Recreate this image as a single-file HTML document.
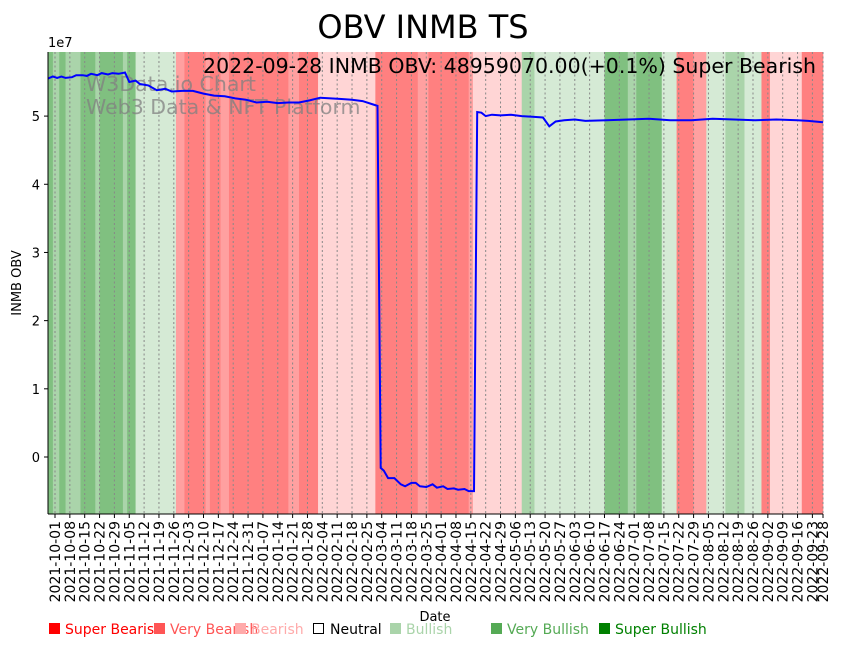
<!DOCTYPE html>
<html><head><meta charset="utf-8">
<style>
body{margin:0;background:#fff;width:842px;height:646px;overflow:hidden;font-family:"Liberation Sans","DejaVu Sans",sans-serif;}
svg text{font-family:"DejaVu Sans","Liberation Sans",sans-serif;}
</style></head>
<body>
<svg id="chart" width="842" height="646" xmlns="http://www.w3.org/2000/svg">
<g id="bands"></g>
<g id="grid"></g>
<g id="watermark">
<text x="86" y="91" font-size="20.5" fill="#808080" fill-opacity="0.75">W3Data.io Chart</text>
<text x="86" y="114" font-size="20.5" fill="#808080" fill-opacity="0.75">Web3 Data &amp; NFT Platform</text>
</g>
<path id="line" fill="none" stroke="#0000ff" stroke-width="2"/>
<text x="816" y="73" font-size="20.5" text-anchor="end" fill="#000">2022-09-28 INMB OBV: 48959070.00(+0.1%) Super Bearish</text>
<line x1="48" y1="52" x2="48" y2="514" stroke="#000" stroke-width="1"/>
<line x1="48" y1="514" x2="823" y2="514" stroke="#000" stroke-width="1"/>
<g id="yticks"></g>
<g id="xticks"></g>
<text x="48" y="47" font-size="13">1e7</text>
<text x="423" y="38" font-size="32" text-anchor="middle">OBV INMB TS</text>
<text transform="translate(21,283) rotate(-90)" font-size="13" text-anchor="middle">INMB OBV</text>
<text x="435" y="621" font-size="13" text-anchor="middle">Date</text>
<g font-size="14">
<g><rect x="49" y="623" width="11" height="11" fill="#ff0000"/><text x="65" y="634" fill="#ff0000">Super Bearish</text></g>
<g><rect x="154" y="623" width="11" height="11" fill="#ff5555"/><text x="170" y="634" fill="#ff5555">Very Bearish</text></g>
<g><rect x="235" y="623" width="11" height="11" fill="#ffaaaa"/><text x="251" y="634" fill="#ffaaaa">Bearish</text></g>
<g><rect x="313.5" y="623.5" width="10" height="10" fill="#fff" stroke="#000"/><text x="330" y="634" fill="#000">Neutral</text></g>
<g><rect x="390" y="623" width="11" height="11" fill="#aad4aa"/><text x="406" y="634" fill="#aad4aa">Bullish</text></g>
<g><rect x="491" y="623" width="11" height="11" fill="#55aa55"/><text x="507" y="634" fill="#55aa55">Very Bullish</text></g>
<g><rect x="599" y="623" width="11" height="11" fill="#008000"/><text x="615" y="634" fill="#008000">Super Bullish</text></g>
</g>
</svg>
<script>
// band boundaries (days since 2021-10-01) and categories
const bandStarts=[-3.3,-1,2,5,7,12,19,21,32,34,38,57,61,71,73,78,82,101,110,115,124,151,171,176,195,197,220,226,259,270,274,286,293,301,307,316,325,333,337,352];
const bandCats=['SBu','VBu','SBu','VBu','VBu','SBu','VBu','SBu','VBu','SBu','Bu','VBe','SBe','VBe','SBe','VBe','SBe','SBe','VBe','SBe','Be','SBe','VBe','SBe','VBe','Be','VBu','Bu','SBu','VBu','SBu','Bu','SBe','VBe','Bu','VBu','Bu','SBe','Be','SBe'];
const bandEnd=362;
const catColors={SBe:'#ff8080',VBe:'#ffa0a0',Be:'#ffd5d5',Bu:'#d5ead5',VBu:'#aad4aa',SBu:'#80c080'};
// OBV series (1e7 units)
const obvDays=[-3.3,-1,1,3,5,8,10,13,15,17,20,22,25,27,30,33,35,38,40,44,48,52,55,60,65,70,75,80,85,90,95,100,105,110,115,120,125,130,135,140,145,150,152,153.5,155,157,160,163,165,168,170,172,175,178,180,183,185,188,190,193,195,197.5,199,201,203,206,210,215,220,225,230,233,236,240,245,250,260,270,280,290,300,310,320,330,340,350,355,362];
const obvVals=[5.55,5.58,5.56,5.58,5.56,5.57,5.6,5.6,5.59,5.62,5.6,5.63,5.61,5.63,5.62,5.64,5.5,5.52,5.47,5.45,5.38,5.4,5.36,5.37,5.37,5.33,5.3,5.29,5.26,5.24,5.2,5.21,5.19,5.2,5.2,5.23,5.27,5.26,5.25,5.24,5.22,5.17,5.15,-0.16,-0.2,-0.31,-0.31,-0.4,-0.43,-0.38,-0.38,-0.43,-0.44,-0.4,-0.45,-0.43,-0.47,-0.46,-0.48,-0.47,-0.5,-0.5,5.06,5.05,5.0,5.02,5.01,5.02,5.0,4.99,4.98,4.85,4.92,4.94,4.95,4.93,4.94,4.95,4.96,4.94,4.94,4.96,4.95,4.94,4.95,4.94,4.93,4.91];
const tickLabels=[];
(function(){const s=new Date(Date.UTC(2021,9,1));for(let d=0;d<=361;d+=7){tickLabels.push([d,new Date(s.getTime()+d*864e5).toISOString().slice(0,10)]);}tickLabels.push([362,'2022-09-28']);})();
const yTicks=[0,1,2,3,4,5];

const X0=48,X1=823,D0=-3.3,D1=362,Y0=514,Y1=52,V0=-0.836,V1=5.94;
const xs=d=>X0+(d-D0)/(D1-D0)*(X1-X0);
const ys=v=>Y0-(v-V0)/(V1-V0)*(Y0-Y1);
const NS='http://www.w3.org/2000/svg';
function mk(t,a,p){const e=document.createElementNS(NS,t);for(const k in a)e.setAttribute(k,a[k]);p.appendChild(e);return e;}
const bg=document.getElementById('bands');
bandStarts.forEach((s,i)=>{const e=i+1<bandStarts.length?bandStarts[i+1]:bandEnd;
const r=mk('rect',{x:xs(s),y:Y1,width:xs(e)-xs(s)+0.3,height:Y0-Y1,fill:catColors[bandCats[i]]},bg);

});
const gg=document.getElementById('grid'),xt=document.getElementById('xticks');
tickLabels.forEach(([d,l])=>{const x=xs(d);
const g=mk('line',{x1:x,y1:Y1,x2:x,y2:Y0,stroke:'#888','stroke-width':1,'stroke-dasharray':'2,2.5'},gg);


mk('line',{x1:x,y1:Y0,x2:x,y2:Y0+4,stroke:'#000'},xt);
const t=mk('text',{transform:`translate(${x+5},${Y0+7}) rotate(-90)`,'font-size':14,'text-anchor':'end'},xt);


t.textContent=l;});
const yt=document.getElementById('yticks');
yTicks.forEach(v=>{const y=ys(v);mk('line',{x1:X0-4,y1:y,x2:X0,y2:y,stroke:'#000'},yt);
const t=mk('text',{x:X0-8,y:y+5,'font-size':13,'text-anchor':'end'},yt);


t.textContent=v;});
document.getElementById('line').setAttribute('d',obvDays.map((d,i)=>(i?'L':'M')+xs(d).toFixed(1)+','+ys(obvVals[i]).toFixed(1)).join(''));
</script>
</body></html>
